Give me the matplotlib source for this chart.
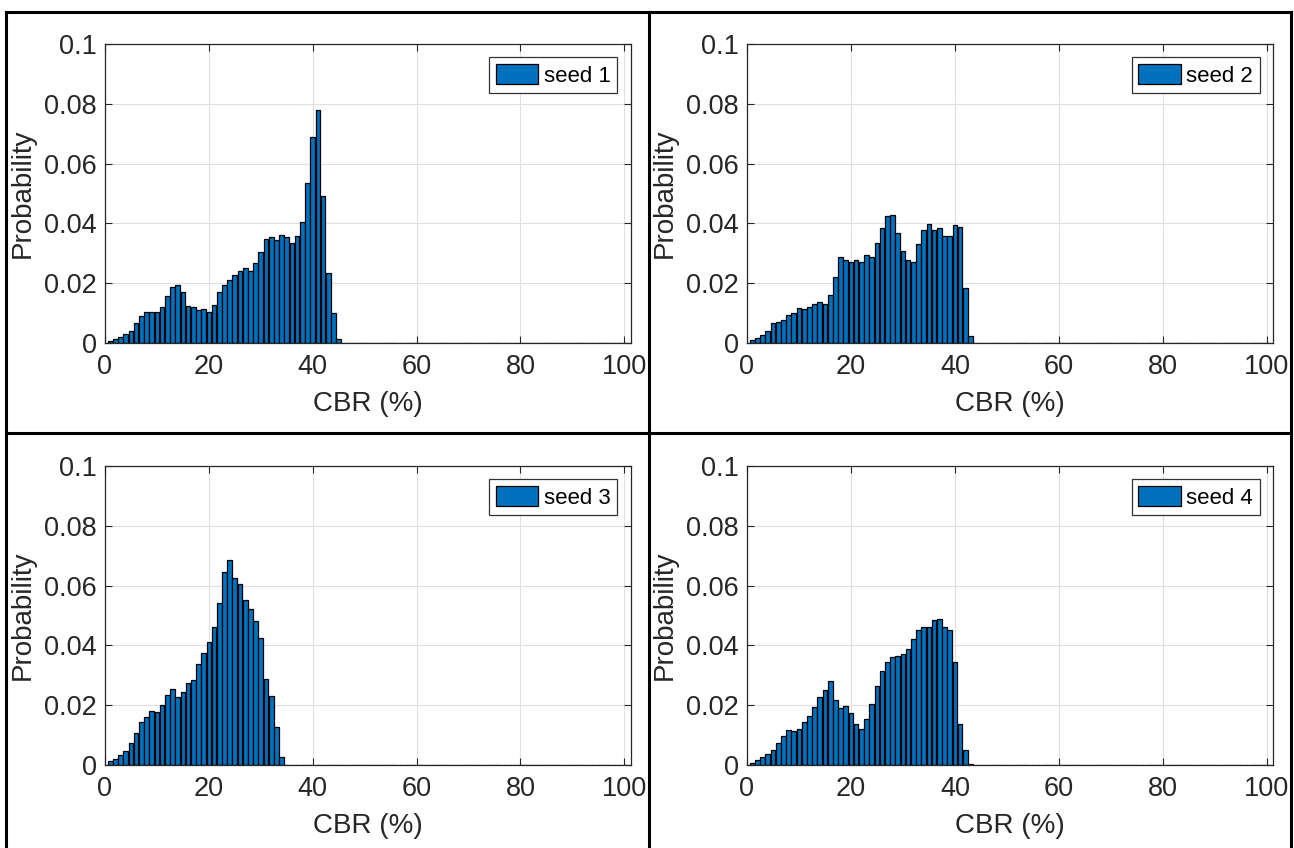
import matplotlib
matplotlib.use("Agg")
import matplotlib.pyplot as plt
from matplotlib.lines import Line2D
import numpy as np

plt.rcParams['font.family'] = ['Liberation Sans', 'DejaVu Sans']

# Probability per 1%-CBR bin (bins centred at 1, 2, 3, ...); remaining bins up to 100 are zero
seed1 = [0.0008, 0.0013, 0.0020, 0.0030, 0.0041, 0.0066, 0.0091, 0.0104, 0.0104, 0.0104,
         0.0119, 0.0158, 0.0187, 0.0195, 0.0170, 0.0125, 0.0119, 0.0111, 0.0113, 0.0104,
         0.0126, 0.0171, 0.0193, 0.0212, 0.0229, 0.0242, 0.0252, 0.0242, 0.0269, 0.0304,
         0.0347, 0.0353, 0.0346, 0.0360, 0.0353, 0.0336, 0.0358, 0.0406, 0.0534, 0.0690,
         0.0780, 0.0491, 0.0234, 0.0102, 0.0015]
seed2 = [0.0009, 0.0016, 0.0026, 0.0039, 0.0066, 0.0069, 0.0077, 0.0092, 0.0102, 0.0118,
         0.0114, 0.0121, 0.0129, 0.0136, 0.0129, 0.0161, 0.0222, 0.0289, 0.0277, 0.0272,
         0.0276, 0.0271, 0.0293, 0.0286, 0.0336, 0.0386, 0.0426, 0.0429, 0.0369, 0.0309,
         0.0276, 0.0272, 0.0330, 0.0377, 0.0397, 0.0377, 0.0386, 0.0357, 0.0359, 0.0393,
         0.0387, 0.0184, 0.0022]
seed3 = [0.0015, 0.0021, 0.0032, 0.0047, 0.0073, 0.0106, 0.0143, 0.0160, 0.0180, 0.0176,
         0.0202, 0.0233, 0.0254, 0.0229, 0.0244, 0.0273, 0.0284, 0.0337, 0.0373, 0.0410,
         0.0462, 0.0541, 0.0647, 0.0685, 0.0625, 0.0605, 0.0551, 0.0521, 0.0483, 0.0424,
         0.0287, 0.0231, 0.0128, 0.0026]
seed4 = [0.0008, 0.0017, 0.0026, 0.0037, 0.0050, 0.0072, 0.0097, 0.0116, 0.0114, 0.0122,
         0.0143, 0.0165, 0.0194, 0.0227, 0.0251, 0.0282, 0.0218, 0.0190, 0.0197, 0.0174,
         0.0137, 0.0122, 0.0153, 0.0204, 0.0265, 0.0315, 0.0345, 0.0360, 0.0363, 0.0370,
         0.0389, 0.0422, 0.0453, 0.0463, 0.0461, 0.0485, 0.0489, 0.0463, 0.0453, 0.0345,
         0.0137, 0.0050, 0.0002]

series = [seed1, seed2, seed3, seed4]
labels = ["seed 1", "seed 2", "seed 3", "seed 4"]
n_bins = 100
xticks = [0, 20, 40, 60, 80, 100]
yticks = [0, 0.02, 0.04, 0.06, 0.08, 0.1]
ytick_labels = ["0", "0.02", "0.04", "0.06", "0.08", "0.1"]

W, H = 1294, 848
fig = plt.figure(figsize=(W / 100, H / 100), dpi=100)

# axes rectangles in pixels: left, top, right, bottom
rects = [(105, 44, 630.5, 343), (747, 44, 1273, 343),
         (105, 466, 630.5, 765), (747, 466, 1273, 765)]

bar_color = "#0072BD"
ax_color = "#262626"

for vals, lab, (l, t, r, b) in zip(series, labels, rects):
    ax = fig.add_axes([l / W, (H - b) / H, (r - l) / W, (b - t) / H])
    heights = np.zeros(n_bins)
    heights[:len(vals)] = vals
    centers = np.arange(1, n_bins + 1)
    ax.bar(centers, heights, width=0.9, color=bar_color, edgecolor="black",
           linewidth=0.9, label=lab, zorder=3)
    ax.set_xlim(0, 101.2)
    ax.set_ylim(0, 0.1)
    ax.set_xticks(xticks)
    ax.set_yticks(yticks)
    ax.set_yticklabels(ytick_labels)
    ax.grid(True, color="#e0e0e0", linewidth=0.8, zorder=0)
    ax.set_axisbelow(True)
    ax.tick_params(direction="in", length=5, width=0.8, top=True, right=True,
                   labelsize=19.5, colors=ax_color)
    ax.tick_params(axis="x", pad=8)
    ax.tick_params(axis="y", pad=6)
    for sp in ax.spines.values():
        sp.set_color(ax_color)
        sp.set_linewidth(0.9)
        sp.set_zorder(5)
    ax.set_xlabel("CBR (%)", fontsize=20, color=ax_color, labelpad=8)
    ax.set_ylabel("Probability", fontsize=20, color=ax_color, labelpad=6)
    leg = ax.legend(loc="upper right", fontsize=16, frameon=True, fancybox=False,
                    edgecolor="#333333", framealpha=1, borderpad=0.3,
                    handlelength=1.9, handleheight=1.0, handletextpad=0.25,
                    borderaxespad=0.6)
    leg.get_frame().set_linewidth(0.9)

# outer frame / dividers (table-like borders)
def px_line(x0, y0, x1, y1):
    fig.add_artist(Line2D([x0 / W, x1 / W], [1 - y0 / H, 1 - y1 / H],
                          transform=fig.transFigure, color="black", linewidth=2.2))

px_line(6, 12, 1291, 12)      # top
px_line(6, 12, 6, 848)        # left
px_line(1291, 12, 1291, 848)  # right
px_line(649, 12, 649, 848)    # vertical divider
px_line(6, 433, 1291, 433)    # horizontal divider

fig.savefig("out.png", dpi=100)
